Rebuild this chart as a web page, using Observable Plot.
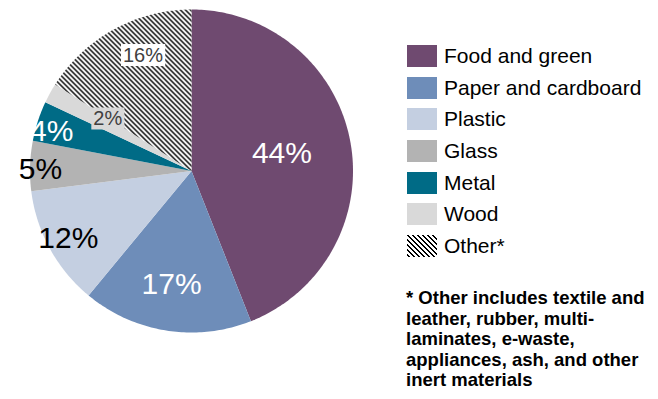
<!DOCTYPE html>
<html><head><meta charset="utf-8">
<script src="https://cdn.jsdelivr.net/npm/d3@7"></script>
<script src="https://cdn.jsdelivr.net/npm/@observablehq/plot@0.6"></script>
<style>
body{margin:0;background:#fff;font-family:"Liberation Sans",Arial,sans-serif;}
#wrap{position:relative;width:658px;height:399px;overflow:hidden;}
#chart{position:absolute;left:0;top:0;}
#legend{position:absolute;left:407px;top:40px;}
.row{display:flex;align-items:center;height:31.7px;font-size:21px;color:#000;}
.sw{width:30px;height:22px;margin-right:7px;flex:none;}
#note{position:absolute;left:406px;top:288px;font-weight:bold;font-size:18.5px;line-height:20.5px;width:252px;color:#000;white-space:nowrap;}
</style>
</head><body>
<svg width="0" height="0" style="position:absolute">
  <defs>
    <pattern id="hatch" patternUnits="userSpaceOnUse" width="5" height="5">
      <rect width="5" height="5" fill="#fff"/>
      <g fill="#000" shape-rendering="crispEdges">
        <rect x="0" y="0" width="2" height="1"/>
        <rect x="1" y="1" width="2" height="1"/>
        <rect x="2" y="2" width="2" height="1"/>
        <rect x="3" y="3" width="2" height="1"/>
        <rect x="4" y="4" width="1" height="1"/>
        <rect x="0" y="4" width="1" height="1"/>
      </g>
    </pattern>
  </defs>
</svg>
<div id="wrap">
  <div id="chart"></div>
  <div id="legend"></div>
  <div id="note">* Other includes textile and<br>leather, rubber, multi-<br>laminates, e-waste,<br>appliances, ash, and other<br>inert materials</div>
</div>
<script>
// ---- data ----
const categories = ["Food and green","Paper and cardboard","Plastic","Glass","Metal","Wood","Other*"];
const shares = [44, 17, 12, 5, 4, 2, 16];
const labels = ["44%","17%","12%","5%","4%","2%","16%"];
// ---- style ----
const colors = ["#6f4a70","#6e8db9","#c4cfe1","#b3b3b3","#006b86","#d9d9d9","url(#hatch)"];
const labelColors = ["#ffffff","#ffffff","#000000","#000000","#ffffff","#404040","#404040"];
const labelBg = [null, null, null, null, null, "#d9d9d9", "#ffffff"];
// ---- label layout (fraction of radius, angular nudge in degrees) ----
const labelRadius = [0.57, 0.71, 0.87, 0.935, 0.9, 0.61, 0.775];
const labelNudge = [0, 1, 0, -1, -2, 3, 6];

const total = d3.sum(shares);
let acc = 0;
const slices = categories.map((name, i) => {
  const a0 = acc / total; acc += shares[i]; const a1 = acc / total;
  return {name, i, a0, a1, color: colors[i]};
});
const polyPts = [];
for (const s of slices) {
  polyPts.push({name: s.name, color: s.color, x: 0, y: 0});
  const n = Math.max(4, Math.ceil((s.a1 - s.a0) * 400));
  for (let k = 0; k <= n; k++) {
    const t = 2 * Math.PI * (s.a0 + (s.a1 - s.a0) * k / n);
    polyPts.push({name: s.name, color: s.color, x: Math.sin(t), y: Math.cos(t)});
  }
}
const labelData = slices.map(s => {
  const t = 2 * Math.PI * ((s.a0 + s.a1) / 2) + labelNudge[s.i] * Math.PI / 180;
  const r = labelRadius[s.i];
  return {text: labels[s.i], x: r * Math.sin(t), y: r * Math.cos(t),
          color: labelColors[s.i], bg: labelBg[s.i]};
});
const big = labelData.filter(d => !d.bg);
const small = labelData.filter(d => d.bg);

const R = 161.5, cx = 191, cy = 170.5;
const plot = Plot.plot({
  width: 390, height: 399, margin: 0,
  x: {domain: [-1, 1], range: [cx - R, cx + R], axis: null},
  y: {domain: [-1, 1], range: [cy + R, cy - R], axis: null},
  color: {type: "identity"},
  style: {fontFamily: "'Liberation Sans', Arial, sans-serif", background: "transparent", overflow: "visible"},
  marks: [
    Plot.line(polyPts, {x: "x", y: "y", z: "name", fill: "color", stroke: "none", curve: "linear"}),
    Plot.text(big, {x: "x", y: "y", text: "text", fill: "color", fontSize: 30, textAnchor: "middle", lineAnchor: "middle"}),
    Plot.text(small, {x: "x", y: "y", text: "text", fill: "color", fontSize: 20, textAnchor: "middle", lineAnchor: "middle", className: "boxlabel"})
  ]
});
document.getElementById("chart").appendChild(plot);

// label background boxes
d3.select(plot).selectAll("g.boxlabel text").each(function(_, j) {
  const bb = this.getBBox();
  const d = small[j];
  d3.select(this.parentNode).insert("rect", () => this)
    .attr("transform", this.getAttribute("transform"))
    .attr("x", bb.x - 2).attr("y", bb.y).attr("width", bb.width + 4).attr("height", bb.height)
    .attr("fill", d.bg);
});

// legend
const legend = d3.select("#legend");
categories.forEach((c, i) => {
  const row = legend.append("div").attr("class", "row");
  const sw = row.append("svg").attr("class", "sw").attr("width", 30).attr("height", 22);
  sw.append("rect").attr("width", 30).attr("height", 22).attr("fill", colors[i]);
  row.append("span").text(c);
});
</script>
</body></html>
